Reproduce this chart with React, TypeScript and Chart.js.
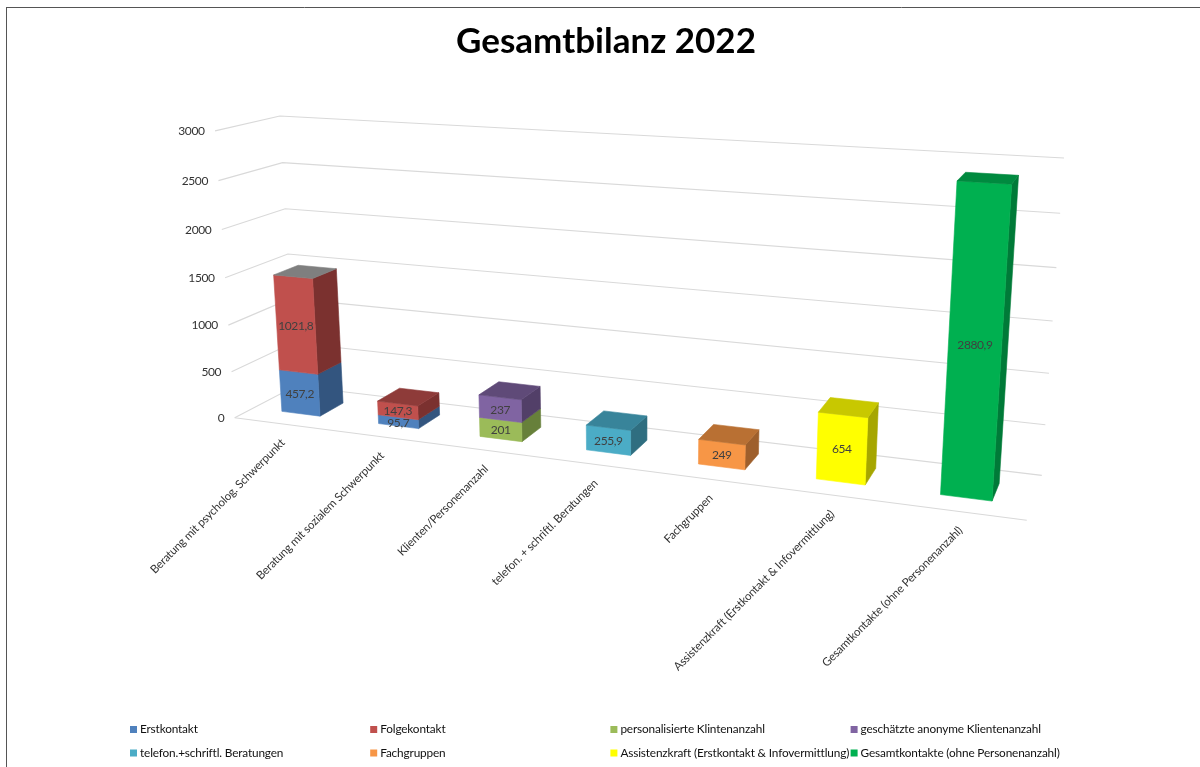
import React, { useEffect, useRef } from "react";
import { Chart, registerables } from "chart.js";

Chart.register(...registerables);

// ---- Values ----
const categories = [
  "Beratung mit psycholog. Schwerpunkt",
  "Beratung mit sozialem Schwerpunkt",
  "Klienten/Personenanzahl",
  "telefon. + schriftl. Beratungen",
  "Fachgruppen",
  "Assistenzkraft (Erstkontakt & Infovermittlung)",
  "Gesamtkontakte (ohne Personenanzahl)",
];
const erstkontakt = [457.2, 95.7, null, null, null, null, null];
const folgekontakt = [1021.8, 147.3, null, null, null, null, null];
const personalisiert = [null, null, 201, null, null, null, null];
const anonym = [null, null, 237, null, null, null, null];
const telefonisch = [null, null, null, 255.9, null, null, null];
const fachgruppen = [null, null, null, null, 249, null, null];
const assistenz = [null, null, null, null, null, 654, null];
const gesamt = [null, null, null, null, null, null, 2880.9];

const AXIS_MAX = 3000;
const AXIS_STEP = 500;

// ---- Styles: front face, side face, top face ----
const seriesStyles = [
  { label: "Erstkontakt", data: erstkontakt, front: "#4F81BD", side: "#33557F", top: ["#3A6090", "#3A6090"] },
  { label: "Folgekontakt", data: folgekontakt, front: "#C0504D", side: "#7B312F", top: ["#7F7F7F", "#8E3B39"] },
  { label: "personalisierte Klintenanzahl", data: personalisiert, front: "#9BBB59", side: "#67803A", top: ["#6F8A3E"] },
  { label: "geschätzte anonyme Klientenanzahl", data: anonym, front: "#8064A2", side: "#523F68", top: ["#5F4A78"] },
  { label: "telefon.+schriftl. Beratungen", data: telefonisch, front: "#4BACC6", side: "#2F6E80", top: ["#38849A"] },
  { label: "Fachgruppen", data: fachgruppen, front: "#F79646", side: "#9E5F2C", top: ["#B97033"] },
  { label: "Assistenzkraft (Erstkontakt & Infovermittlung)", data: assistenz, front: "#FFFF00", side: "#A6A600", top: ["#C8C800"] },
  { label: "Gesamtkontakte (ohne Personenanzahl)", data: gesamt, front: "#00B050", side: "#007A38", top: ["#008A3F"] },
];

const FONT = "Lato, Carlito, 'Open Sans', sans-serif";
const GRID = "#D9D9D9";
const INK = "#333333";

// ---- Perspective camera ----
// Calibration of the plot box: [across, height, depth] in unit space → canvas pixels.
const cameraCalibration: number[][] = [
  [0, 0, 0, 235, 417.7],
  [0, 1 / 6, 0, 231.7, 372],
  [0, 1 / 2, 0, 225, 278],
  [0, 2 / 3, 0, 222, 229.7],
  [0, 5 / 6, 0, 218.3, 180.3],
  [0, 1, 0, 214.7, 130.7],
  [0, 0, 1, 295, 385.5],
  [0, 1 / 2, 1, 287.7, 254.3],
  [0, 2 / 3, 1, 285.3, 209],
  [0, 5 / 6, 1, 283, 162.7],
  [0, 1, 1, 280, 115.7],
  [1, 0, 0, 1026.7, 520],
  [1, 0, 1, 1041.7, 475.7],
  [1, 1 / 6, 1, 1045.7, 424.7],
  [1, 5 / 6, 1, 1060, 213.3],
  [1, 1, 1, 1064, 158],
];

function solveLinear(A: number[][], b: number[]): number[] {
  const n = b.length;
  const M = A.map((row, i) => [...row, b[i]]);
  for (let c = 0; c < n; c++) {
    let pivot = c;
    for (let r = c + 1; r < n; r++) if (Math.abs(M[r][c]) > Math.abs(M[pivot][c])) pivot = r;
    [M[c], M[pivot]] = [M[pivot], M[c]];
    for (let r = 0; r < n; r++) {
      if (r === c) continue;
      const f = M[r][c] / M[c][c];
      for (let k = c; k <= n; k++) M[r][k] -= f * M[c][k];
    }
  }
  return M.map((row, i) => row[n] / row[i]);
}

// Least-squares fit of a projective 3D → 2D camera matrix.
function fitCamera(samples: number[][]): number[] {
  const rows: number[][] = [];
  const rhs: number[] = [];
  for (const [u, v, z, px, py] of samples) {
    const x = px / 1000;
    const y = py / 1000;
    rows.push([u, v, z, 1, 0, 0, 0, 0, -x * u, -x * v, -x * z]);
    rhs.push(x);
    rows.push([0, 0, 0, 0, u, v, z, 1, -y * u, -y * v, -y * z]);
    rhs.push(y);
  }
  const n = 11;
  const AtA = Array.from({ length: n }, () => new Array(n).fill(0));
  const Atb = new Array(n).fill(0);
  rows.forEach((row, r) => {
    for (let i = 0; i < n; i++) {
      Atb[i] += row[i] * rhs[r];
      for (let j = 0; j < n; j++) AtA[i][j] += row[i] * row[j];
    }
  });
  return solveLinear(AtA, Atb);
}

const cam = fitCamera(cameraCalibration);

function project(u: number, v: number, z: number): [number, number] {
  const w = cam[8] * u + cam[9] * v + cam[10] * z + 1;
  return [
    (1000 * (cam[0] * u + cam[1] * v + cam[2] * z + cam[3])) / w,
    (1000 * (cam[4] * u + cam[5] * v + cam[6] * z + cam[7])) / w,
  ];
}

const BAR_NEAR = 0.3;
const BAR_FAR = 0.7;

function polygon(ctx: CanvasRenderingContext2D, pts: [number, number][], fill: string) {
  ctx.beginPath();
  pts.forEach(([x, y], i) => (i ? ctx.lineTo(x, y) : ctx.moveTo(x, y)));
  ctx.closePath();
  ctx.fillStyle = fill;
  ctx.strokeStyle = fill;
  ctx.lineWidth = 0.6;
  ctx.fill();
  ctx.stroke();
}

function line(ctx: CanvasRenderingContext2D, a: [number, number], b: [number, number]) {
  ctx.beginPath();
  ctx.moveTo(a[0], a[1]);
  ctx.lineTo(b[0], b[1]);
  ctx.stroke();
}

function setFont(ctx: any, size: number, spacing: number) {
  ctx.font = `${size}px ${FONT}`;
  ctx.letterSpacing = `${spacing}px`;
}

// Draws the walls, the floor, the axis texts and the bars through the camera.
const perspectivePlugin = {
  id: "perspectiveBars",
  beforeDatasetDraw() {
    return false;
  },
  afterDatasetsDraw(chart: any) {
    const { ctx, chartArea: area, scales } = chart;
    const heightOf = (px: number) => (area.bottom - px) / (area.bottom - area.top);
    const acrossOf = (px: number) => (px - area.left) / (area.right - area.left);

    ctx.save();

    // Frame of the slide
    ctx.strokeStyle = "#555555";
    ctx.lineWidth = 1;
    line(ctx, [6.5, 7], [6.5, 767]);
    line(ctx, [6, 7.5], [1200, 7.5]);

    // Gridlines on left wall and back wall, plus the value labels
    setFont(ctx, 12, -0.4);
    ctx.textAlign = "right";
    ctx.textBaseline = "middle";
    for (const tick of scales.y.ticks) {
      const v = heightOf(scales.y.getPixelForValue(tick.value));
      ctx.strokeStyle = GRID;
      ctx.lineWidth = 1.1;
      const a = project(0, v, 0);
      const b = project(0, v, 1);
      const c = project(1, v, 1);
      ctx.beginPath();
      ctx.moveTo(a[0], a[1]);
      ctx.lineTo(b[0], b[1]);
      ctx.lineTo(c[0], c[1]);
      ctx.stroke();
      ctx.fillStyle = INK;
      ctx.fillText(String(tick.value), a[0] - 10.5, a[1] + 0.5);
    }
    ctx.strokeStyle = GRID;
    line(ctx, project(0, 0, 0), project(1, 0, 0));

    // Category labels, hanging from the front floor edge
    setFont(ctx, 11.5, -0.18);
    ctx.textAlign = "right";
    ctx.textBaseline = "middle";
    ctx.fillStyle = INK;
    categories.forEach((name, i) => {
      const [x, y] = project(acrossOf(scales.x.getPixelForValue(i)), 0, 0);
      ctx.save();
      ctx.translate(x + 0.5, y + 17);
      ctx.rotate(-Math.PI / 4);
      ctx.fillText(name, 0, 0);
      ctx.restore();
    });

    // Bars, segment by segment from the floor upward
    const valueLabels: { text: string; x: number; y: number }[] = [];
    categories.forEach((_, i) => {
      const segments = seriesStyles
        .map((style, d) => ({ style, d, el: chart.getDatasetMeta(d).data[i], value: style.data[i] }))
        .filter((s) => s.value !== null);
      segments.forEach((s, n) => {
        const { el, style } = s;
        const u0 = acrossOf(el.x - el.width / 2);
        const u1 = acrossOf(el.x + el.width / 2);
        const v0 = heightOf(el.base);
        const v1 = heightOf(el.y);
        polygon(ctx, [project(u1, v0, BAR_NEAR), project(u1, v0, BAR_FAR), project(u1, v1, BAR_FAR), project(u1, v1, BAR_NEAR)], style.side);
        polygon(ctx, [project(u0, v0, BAR_NEAR), project(u1, v0, BAR_NEAR), project(u1, v1, BAR_NEAR), project(u0, v1, BAR_NEAR)], style.front);
        if (n === segments.length - 1) {
          const cap = style.top[Math.min(i, style.top.length - 1)];
          polygon(ctx, [project(u0, v1, BAR_NEAR), project(u1, v1, BAR_NEAR), project(u1, v1, BAR_FAR), project(u0, v1, BAR_FAR)], cap);
        }
        const [lx, ly] = project((u0 + u1) / 2, (v0 + v1) / 2, BAR_NEAR);
        valueLabels.push({ text: String(s.value).replace(".", ","), x: lx, y: ly + 1 });
      });
    });

    setFont(ctx, 12, -0.4);
    ctx.textAlign = "center";
    ctx.textBaseline = "middle";
    ctx.fillStyle = "#404040";
    valueLabels.forEach((l) => ctx.fillText(l.text, l.x, l.y));

    // Legend: four columns, two rows
    setFont(ctx, 11.8, -0.15);
    ctx.textAlign = "left";
    chart.data.datasets.forEach((ds: any, d: number) => {
      const col = d % 4;
      const row = Math.floor(d / 4);
      const x = 130 + col * 240.2;
      const y = 729.5 + row * 23.5;
      ctx.fillStyle = ds.backgroundColor;
      ctx.fillRect(x, y - 3.5, 7, 7);
      ctx.fillStyle = "#111111";
      ctx.fillText(ds.label, x + 10, y);
    });

    ctx.restore();
  },
};

export default function App() {
  const ref = useRef<HTMLCanvasElement>(null);

  useEffect(() => {
    const chart = new Chart(ref.current!, {
      type: "bar",
      data: {
        labels: categories,
        datasets: seriesStyles.map((s) => ({
          label: s.label,
          data: s.data,
          backgroundColor: s.front,
          categoryPercentage: 1,
          barPercentage: 0.4,
        })),
      },
      options: {
        responsive: false,
        animation: false,
        layout: { padding: { left: 12, top: 21 } },
        plugins: {
          legend: { display: false },
          tooltip: { enabled: false },
          title: {
            display: true,
            text: "Gesamtbilanz 2022",
            color: "#000000",
            font: { family: FONT, size: 35, weight: "bold" },
            padding: { top: 0, bottom: 10 },
          },
        },
        scales: {
          x: {
            stacked: true,
            ticks: { display: false },
            grid: { display: false },
            border: { display: false },
          },
          y: {
            stacked: true,
            min: 0,
            max: AXIS_MAX,
            ticks: { display: false, stepSize: AXIS_STEP },
            grid: { display: false },
            border: { display: false },
          },
        },
      },
      plugins: [perspectivePlugin],
    } as any);
    return () => chart.destroy();
  }, []);

  return (
    <div style={{ position: "absolute", left: 0, top: 0, width: 1200, height: 767, background: "#fff" }}>
      <canvas ref={ref} width={1200} height={767} style={{ display: "block" }} />
    </div>
  );
}
